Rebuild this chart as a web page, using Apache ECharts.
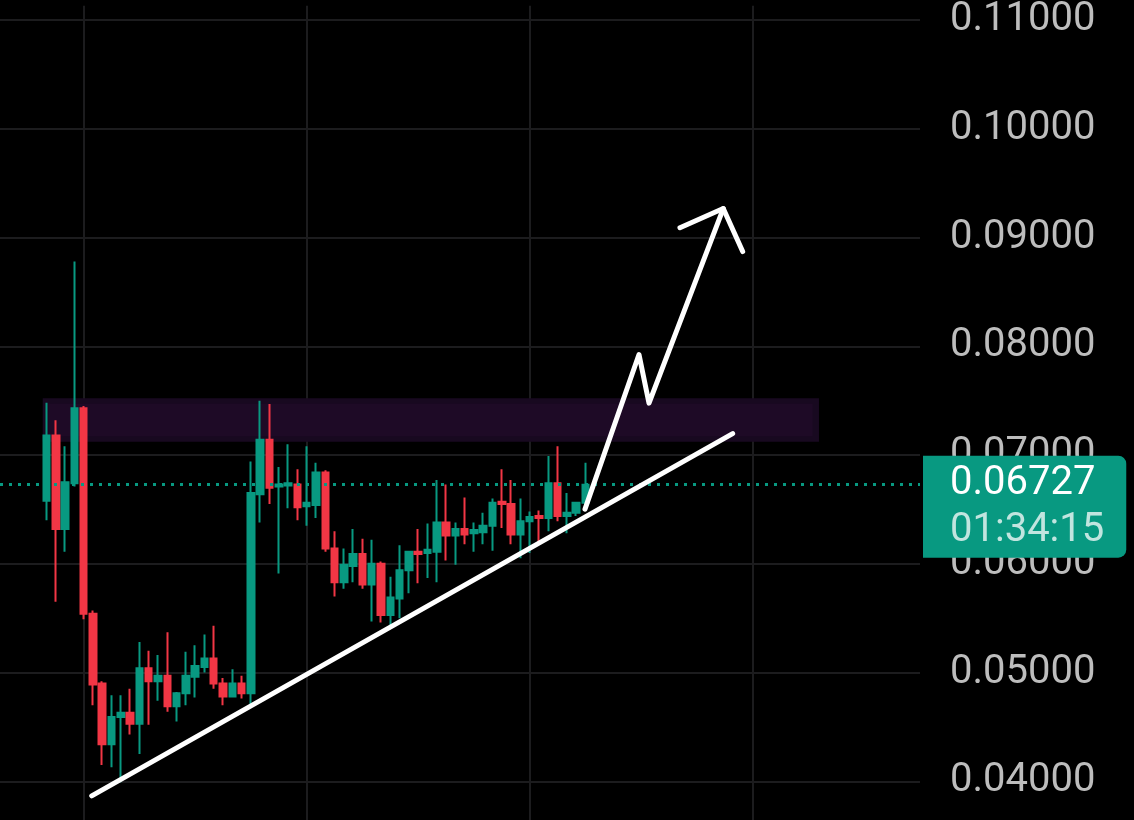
<!DOCTYPE html>
<html><head><meta charset="utf-8">
<script src="https://cdn.jsdelivr.net/npm/echarts@6/dist/echarts.min.js"></script>
<style>html,body{margin:0;padding:0;background:#000;overflow:hidden}#c{width:1134px;height:820px;}</style>
</head><body><div id="c"></div>
<script>
// ---- data ----
const leadSlots = 5;      // empty bars before the first candle
const totalSlots = 100;   // bars on the time axis (incl. empty future space)
const opens  = [0.0658,0.0718,0.0632,0.0674,0.0743,0.0554,0.0490,0.0434,0.0459,0.0463,0.0453,0.0504,0.0492,0.0497,0.0469,0.0481,0.0496,0.0505,0.0513,0.0490,
                0.0478,0.0490,0.0481,0.0664,0.0714,0.0671,0.0672,0.0673,0.0653,0.0654,0.0684,0.0614,0.0583,0.0598,0.0609,0.0581,0.0600,0.0553,0.0568,0.0594,
                0.0611,0.0610,0.0611,0.0638,0.0626,0.0632,0.0628,0.0629,0.0635,0.0657,0.0655,0.0627,0.0639,0.0644,0.0642,0.0674,0.0644,0.0647,0.0656];
const closes = [0.0718,0.0632,0.0675,0.0743,0.0554,0.0489,0.0434,0.0459,0.0463,0.0453,0.0504,0.0492,0.0497,0.0469,0.0481,0.0497,0.0506,0.0513,0.0490,0.0478,
                0.0490,0.0481,0.0665,0.0714,0.0670,0.0673,0.0674,0.0652,0.0656,0.0684,0.0614,0.0583,0.0599,0.0609,0.0581,0.0600,0.0553,0.0569,0.0594,0.0611,
                0.0609,0.0613,0.0638,0.0626,0.0632,0.0627,0.0631,0.0635,0.0656,0.0655,0.0627,0.0639,0.0643,0.0642,0.0674,0.0644,0.0647,0.0656,0.06727];
const lows   = [0.0640,0.0565,0.0611,0.0671,0.0549,0.0470,0.0415,0.0413,0.0399,0.0443,0.0425,0.0452,0.0474,0.0464,0.0455,0.0470,0.0477,0.0500,0.0485,0.0470,
                0.0477,0.0476,0.0471,0.0638,0.0655,0.0591,0.0651,0.0640,0.0635,0.0642,0.0611,0.0570,0.0577,0.0583,0.0577,0.0547,0.0546,0.0540,0.0550,0.0573,
                0.0582,0.0587,0.0583,0.0603,0.0599,0.0618,0.0611,0.0618,0.0612,0.0633,0.0618,0.0605,0.0610,0.0618,0.0630,0.0639,0.0628,0.0644,0.0649];
const highs  = [0.0748,0.0732,0.0708,0.0878,0.0745,0.0557,0.0492,0.0479,0.0479,0.0485,0.0528,0.0520,0.0516,0.0537,0.0482,0.0519,0.0525,0.0535,0.0543,0.0495,
                0.0503,0.0497,0.0694,0.0750,0.0747,0.0689,0.0710,0.0687,0.0708,0.0693,0.0686,0.0630,0.0614,0.0632,0.0623,0.0622,0.0602,0.0588,0.0617,0.0612,
                0.0632,0.0637,0.0677,0.0673,0.0638,0.0661,0.0638,0.0647,0.0660,0.0687,0.0677,0.0660,0.0648,0.0649,0.0699,0.0708,0.0665,0.0657,0.0693];
const lastPrice = 0.06727;
const countdown = '01:34:15';
// drawings (x in bar-index units, y in price)
const trendX = [9.87, 78.84];
const trendY = [0.03866, 0.07197];
const pathX  = [62.95, 68.76, 69.84, 77.83];
const pathY  = [0.06503, 0.07924, 0.07477, 0.09266];
const headX  = [73.17, 77.83, 79.92];
const headY  = [0.09090, 0.09266, 0.08871];
const zoneOuterX = [4.6, 88.13],  zoneOuterY = [0.07523, 0.07121];
const zoneInnerX = [5.2, 87.45],  zoneInnerY = [0.07471, 0.07173];
const yMin = 0.036439, yMax = 0.111305;

// ---- build ----
const categories = Array.from({length: totalSlots}, (_, i) => String(i));
const candleData = categories.map((_, i) => {
  const k = i - leadSlots;
  return (k >= 0 && k < opens.length) ? [opens[k], closes[k], lows[k], highs[k]] : '-';
});
const pairs = (xs, ys) => xs.map((x, i) => [x, ys[i]]);
const GREEN = '#089981', RED = '#f23645', GRID = '#1c1c1e';
const FONT = 'Roboto';

const chart = echarts.init(document.getElementById('c'), null, {renderer: 'canvas'});
chart.setOption({
  backgroundColor: '#000000',
  animation: false,
  grid: {left: 0, right: 214, top: 0, bottom: 0, containLabel: false},
  xAxis: [
    {type: 'category', data: categories, boundaryGap: false,
     axisLine: {show: false}, axisTick: {show: false}, axisLabel: {show: false},
     splitLine: {show: true, interval: (idx) => (idx - 9) % 24 === 0,
                 lineStyle: {color: GRID, width: 2}}},
    {type: 'value', min: 0, max: totalSlots - 1, show: false, splitLine: {show: false}}
  ],
  yAxis: {
    type: 'value', position: 'right', min: yMin, max: yMax,
    minInterval: 0.01, maxInterval: 0.01,
    axisLine: {show: false}, axisTick: {show: false},
    splitLine: {show: true, lineStyle: {width: 2,
      color: ['transparent', GRID, GRID, GRID, GRID, GRID, GRID, GRID, GRID, 'transparent']}},
    axisLabel: {show: true, inside: false, margin: 30, color: '#bdbdbd', fontSize: 40,
      fontFamily: FONT, showMinLabel: false, showMaxLabel: false, padding: [2, 0, 0, 0],
      formatter: (v) => v.toFixed(5)}
  },
  series: [
    {
      type: 'line', xAxisIndex: 1, z: 1, data: [], symbol: 'none',
      markArea: {silent: true, z: 1,
        data: [
          [{xAxis: zoneOuterX[0], yAxis: zoneOuterY[0], itemStyle: {color: '#180920', opacity: 1}}, {xAxis: zoneOuterX[1], yAxis: zoneOuterY[1]}],
          [{xAxis: zoneInnerX[0], yAxis: zoneInnerY[0], itemStyle: {color: '#1e0a26', opacity: 1}}, {xAxis: zoneInnerX[1], yAxis: zoneInnerY[1]}]
        ]},
      markLine: {silent: true, symbol: 'none', z: 4, precision: 5,
        lineStyle: {color: GREEN, type: [3, 6], width: 3},
        label: {show: false},
        data: [{yAxis: lastPrice}]}
    },
    {
      type: 'candlestick', xAxisIndex: 0, z: 3, data: candleData, barWidth: 7,
      itemStyle: {color: GREEN, color0: RED, borderColor: GREEN, borderColor0: RED, borderWidth: 2},
      markPoint: {silent: true, z: 10, symbol: 'circle', symbolSize: 0,
        itemStyle: {color: 'transparent'},
        data: [{coord: [totalSlots - 1, lastPrice], value: lastPrice}],
        label: {show: true, position: 'right', distance: 3, offset: [0, 22],
          backgroundColor: GREEN, borderRadius: [0, 8, 8, 0],
          padding: [5, 22, 3, 27],
          formatter: () => '{p|' + lastPrice.toFixed(5) + '}\n{t|' + countdown + '}',
          rich: {
            p: {color: '#ffffff', fontSize: 40, fontFamily: FONT, lineHeight: 47},
            t: {color: 'rgba(255,255,255,0.75)', fontSize: 40, fontFamily: FONT, lineHeight: 47}
          }}}
    },
    {type: 'line', xAxisIndex: 1, z: 6, symbol: 'none', clip: false, data: pairs(trendX, trendY),
     lineStyle: {color: '#ffffff', width: 5, cap: 'round', join: 'round'}},
    {type: 'line', xAxisIndex: 1, z: 6, symbol: 'none', clip: false, data: pairs(pathX, pathY),
     lineStyle: {color: '#ffffff', width: 5, cap: 'round', join: 'round'}},
    {type: 'line', xAxisIndex: 1, z: 6, symbol: 'none', clip: false, data: pairs(headX, headY),
     lineStyle: {color: '#ffffff', width: 5, cap: 'round', join: 'round'}}
  ]
});
</script></body></html>
